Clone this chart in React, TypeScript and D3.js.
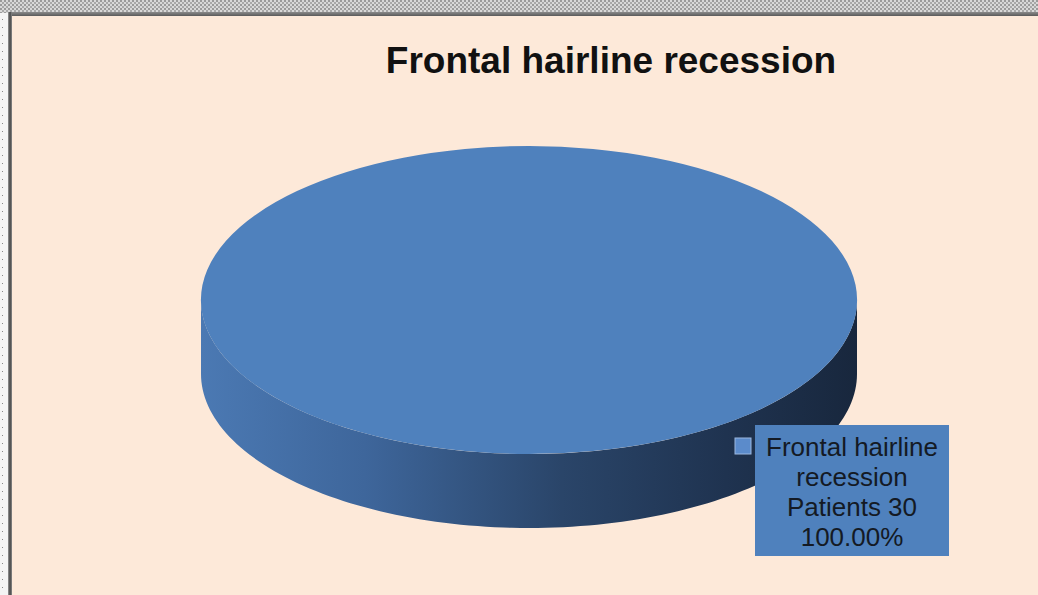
import React from "react";
import * as d3 from "d3";

const categories = ["Frontal hairline recession"];
const seriesName = "Patients";
const values = [30];
const chartTitle = "Frontal hairline recession";

const W = 1038;
const H = 595;

export default function App() {
  const cx = 529;
  const cy = 300;
  const rx = 328;
  const ry = 154;
  const depth = 74;

  const pie = d3.pie<number>().sort(null).startAngle(0).endAngle(2 * Math.PI);
  const arcs = pie(values);
  const total = d3.sum(values);
  const arcGen = d3.arc<d3.PieArcDatum<number>>().innerRadius(0).outerRadius(rx);

  // side (front half) for each arc clipped to visible front range
  const sidePaths = arcs.map((a) => {
    // visible front: angles (d3 convention: 0 at top, clockwise) from PI/2 to 3PI/2
    const s = Math.max(a.startAngle, Math.PI / 2);
    const e = Math.min(a.endAngle, (3 * Math.PI) / 2);
    if (e <= s) return null;
    const pt = (ang: number, dy: number) => [cx + rx * Math.sin(ang), cy - ry * Math.cos(ang) + dy];
    const p = d3.path();
    const [x0, y0] = pt(s, 0);
    p.moveTo(x0, y0);
    const steps = 120;
    for (let i = 1; i <= steps; i++) {
      const t = s + ((e - s) * i) / steps;
      const [x, y] = pt(t, 0);
      p.lineTo(x, y);
    }
    for (let i = steps; i >= 0; i--) {
      const t = s + ((e - s) * i) / steps;
      const [x, y] = pt(t, depth);
      p.lineTo(x, y);
    }
    p.closePath();
    return p.toString();
  });

  const pct = d3.format(".2%");
  const labelLines = [
    "Frontal hairline",
    "recession",
    `${seriesName} ${values[0]}`,
    pct(values[0] / total),
  ];

  return (
    <div style={{ position: "absolute", left: 0, top: 0 }}>
      <svg width={W} height={H} style={{ display: "block" }}>
        <defs>
          <pattern id="chk" width="4" height="4" patternUnits="userSpaceOnUse">
            <rect width="4" height="4" fill="#d8d8d8" />
            <rect width="2" height="2" fill="#9a9a9a" />
            <rect x="2" y="2" width="2" height="2" fill="#a8a8a8" />
          </pattern>
          <pattern id="dots" width="6" height="8" patternUnits="userSpaceOnUse">
            <rect width="6" height="8" fill="#f4f4f4" />
            <rect x="2" y="3" width="1" height="1" fill="#888" />
          </pattern>
          <linearGradient id="topline" x1="0" y1="0" x2="0" y2="1">
            <stop offset="0" stopColor="#8a8a8a" />
            <stop offset="1" stopColor="#5a5a5a" />
          </linearGradient>
          <linearGradient id="leftline" x1="0" y1="0" x2="1" y2="0">
            <stop offset="0" stopColor="#9a9a9a" />
            <stop offset="0.5" stopColor="#444" />
            <stop offset="1" stopColor="#8a8a8a" />
          </linearGradient>
          <linearGradient id="side" x1={cx - rx} y1="0" x2={cx + rx} y2="0" gradientUnits="userSpaceOnUse">
            <stop offset="0" stopColor="#4b79b3" />
            <stop offset="0.25" stopColor="#3e669b" />
            <stop offset="0.55" stopColor="#2a4569" />
            <stop offset="0.8" stopColor="#1f3350" />
            <stop offset="1" stopColor="#18273d" />
          </linearGradient>
        </defs>
        <rect width={W} height={H} fill="#fde9d9" />
        <rect x={0} y={0} width={W} height={14} fill="url(#chk)" />
        <rect x={0} y={13} width={8} height={H - 13} fill="url(#dots)" />
        <rect x={8} y={12} width={W - 8} height={4} fill="url(#topline)" />
        <rect x={8} y={12} width={4} height={H - 12} fill="url(#leftline)" />

        <text
          x={611}
          y={73}
          textAnchor="middle"
          fontFamily="Liberation Sans, Arial, sans-serif"
          fontWeight="bold"
          fontSize={37}
          fill="#111"
        >
          {chartTitle}
        </text>

        {sidePaths.map((d, i) => (d ? <path key={"s" + i} d={d} fill="url(#side)" /> : null))}
        <g transform={`translate(${cx},${cy}) scale(1,${ry / rx})`}>
          {arcs.map((a, i) => (
            <path key={"t" + i} d={arcGen(a) || ""} fill="#4f81bd" />
          ))}
        </g>

        <rect x={735} y={438} width={16} height={16} fill="#5b8bcb" stroke="#9cb8e0" strokeWidth={1} />
        <rect x={755} y={425} width={194} height={131} fill="#4f81bd" />
        <g fontFamily="Liberation Sans, Arial, sans-serif" fontSize={26} fill="#141a24" textAnchor="middle">
          {labelLines.map((l, i) => (
            <text key={i} x={852} y={456 + i * 30}>
              {l}
            </text>
          ))}
        </g>
      </svg>
    </div>
  );
}
